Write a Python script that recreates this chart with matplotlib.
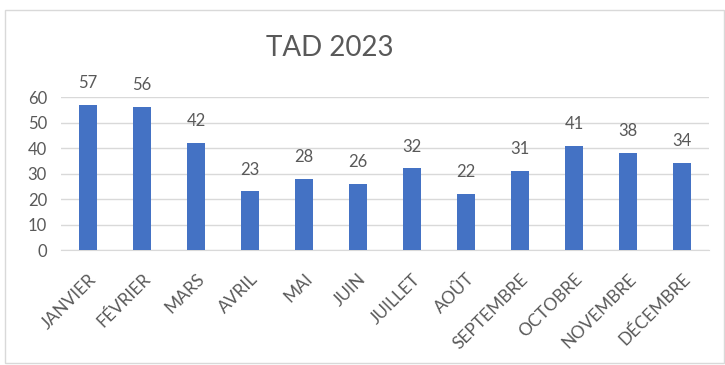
import matplotlib
matplotlib.use("Agg")
import matplotlib.pyplot as plt
from matplotlib.patches import Rectangle

# ── Data ──────────────────────────────────────────────────────────────
months = ["JANVIER", "FÉVRIER", "MARS", "AVRIL", "MAI", "JUIN",
          "JUILLET", "AOÛT", "SEPTEMBRE", "OCTOBRE", "NOVEMBRE", "DÉCEMBRE"]
values = [57, 56, 42, 23, 28, 26, 32, 22, 31, 41, 38, 34]
yticks = [0, 10, 20, 30, 40, 50, 60]

plt.rcParams["font.family"] = ["Lato", "DejaVu Sans"]
text_color = "#595959"

fig = plt.figure(figsize=(7.25, 3.65), dpi=100)
fig.patch.set_facecolor("white")

# chart border (Excel-like frame)
fig.patches.append(Rectangle((5 / 725, 2 / 365), 719 / 725, 353 / 365,
                             transform=fig.transFigure, fill=False,
                             edgecolor="#d9d9d9", linewidth=1))

ax = fig.add_axes([0.084, 0.315, 0.894, 0.419])
x = range(len(months))
ax.bar(x, values, width=0.32, color="#4472C4", zorder=3)

for i, v in zip(x, values):
    ax.annotate(str(v), (i, v), xytext=(0, 10), textcoords="offset points",
                ha="center", va="bottom", fontsize=12, color=text_color,
                annotation_clip=False)

ax.set_xlim(-0.5, len(months) - 0.5)
ax.set_ylim(0, 60)
ax.set_yticks(yticks)
ax.yaxis.grid(True, color="#d9d9d9", linewidth=1, zorder=0)
ax.set_xticks(list(x))
ax.set_xticklabels(months, rotation=45, ha="right", rotation_mode="anchor",
                   fontsize=12.5, color=text_color)
ax.tick_params(axis="y", labelsize=12, labelcolor=text_color, length=0, pad=10)
ax.tick_params(axis="x", length=0, pad=15)
for side in ["top", "right", "left"]:
    ax.spines[side].set_visible(False)
ax.spines["bottom"].set_color("#d9d9d9")

fig.text(0.455, 0.868, "TAD 2023", ha="center", va="center",
         fontsize=20, color=text_color)

plt.savefig("out.png", dpi=100, facecolor=fig.get_facecolor())
plt.close()
